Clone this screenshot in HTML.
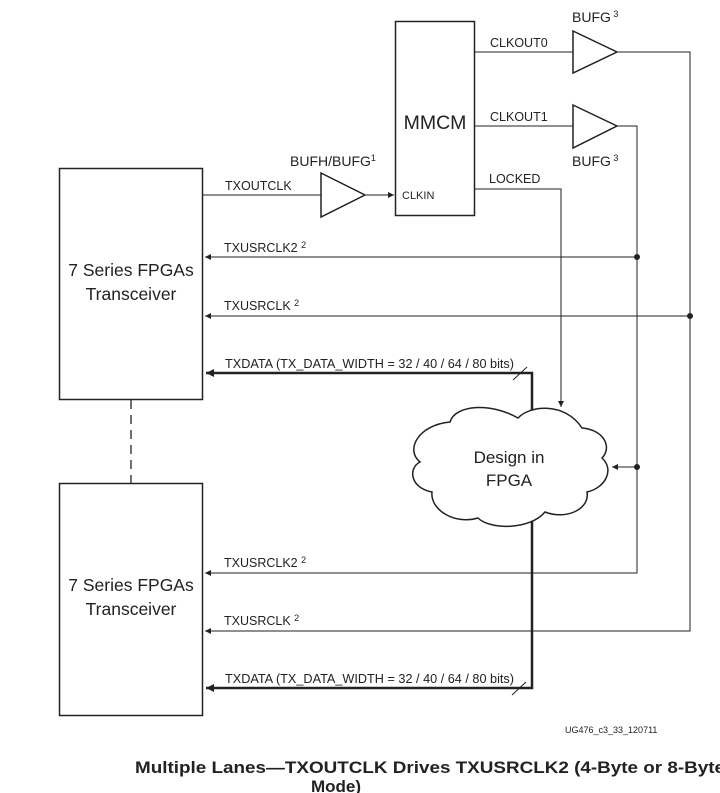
<!DOCTYPE html>
<html><head><style>body{margin:0;background:#fff}svg{display:block}</style></head>
<body>
<svg width="720" height="793" viewBox="0 0 720 793" xmlns="http://www.w3.org/2000/svg" font-family="Liberation Sans, sans-serif" fill="none" stroke="#222">
<defs>
<marker id="a" viewBox="0 0 10 10" refX="10" refY="5" markerWidth="8" markerHeight="6" orient="auto-start-reverse" markerUnits="userSpaceOnUse"><path d="M0,0L10,5L0,10z" fill="#222" stroke="none"/></marker>
<marker id="b" viewBox="0 0 10 10" refX="10" refY="5" markerWidth="14" markerHeight="8" orient="auto" markerUnits="userSpaceOnUse"><path d="M0,0L10,5L0,10z" fill="#222" stroke="none"/></marker>
</defs>
<rect x="59.5" y="168.5" width="143" height="231" stroke-width="1.5"/>
<rect x="59.5" y="483.5" width="143" height="232" stroke-width="1.5"/>
<line x1="131" y1="400" x2="131" y2="483" stroke-dasharray="9,6" stroke-width="1.3"/>
<rect x="395.5" y="21.5" width="79" height="194" stroke-width="1.5"/>
<path d="M321,173L365,195L321,217Z" stroke-width="1.5"/>
<path d="M573,31L617,52L573,73Z" stroke-width="1.5"/>
<path d="M573,105L617,126L573,148Z" stroke-width="1.5"/>
<g stroke-width="1">
<line x1="203" y1="195" x2="321" y2="195"/>
<line x1="365" y1="195" x2="394" y2="195" marker-end="url(#a)"/>
<line x1="475" y1="52" x2="573" y2="52"/>
<line x1="475" y1="126" x2="573" y2="126"/>
<polyline points="617,52 690,52 690,631 205,631" marker-end="url(#a)"/>
<polyline points="617,126 637,126 637,573 205,573" marker-end="url(#a)"/>
<line x1="637" y1="257" x2="205" y2="257" marker-end="url(#a)"/>
<line x1="690" y1="316" x2="205" y2="316" marker-end="url(#a)"/>
<line x1="637" y1="467" x2="612" y2="467" marker-end="url(#a)"/>
<polyline points="475,189 561,189 561,407" marker-end="url(#a)"/>
<line x1="513" y1="380" x2="527" y2="367"/>
<line x1="512" y1="695" x2="526" y2="682"/>
</g>
<g fill="#222" stroke="none"><circle cx="637" cy="257" r="3"/><circle cx="690" cy="316" r="3"/><circle cx="637" cy="467" r="3"/></g>
<g stroke-width="2.5">
<polyline points="532,410 532,373 206,373" marker-end="url(#b)"/>
<polyline points="532,517 532,688 206,688" marker-end="url(#b)"/>
</g>
<path d="M450,422 C455,405 490,402 518,418 C530,405 565,402 582,428 C605,430 612,448 602,458 C615,470 605,488 587,492 C590,510 565,520 545,512 C530,530 490,530 478,518 C455,525 430,510 432,492 C410,488 408,468 420,462 C405,450 418,425 450,422 Z" fill="#fff" stroke-width="1.5"/>
<g fill="#222" stroke="none">
<text x="131" y="276" font-size="17.5" text-anchor="middle">7 Series FPGAs</text>
<text x="131" y="300" font-size="17.5" text-anchor="middle">Transceiver</text>
<text x="131" y="591" font-size="17.5" text-anchor="middle">7 Series FPGAs</text>
<text x="131" y="615" font-size="17.5" text-anchor="middle">Transceiver</text>
<text x="435" y="129" font-size="19.5" text-anchor="middle">MMCM</text>
<text x="509" y="463" font-size="17" text-anchor="middle">Design in</text>
<text x="509" y="486" font-size="17" text-anchor="middle">FPGA</text>
<text x="402" y="199" font-size="11">CLKIN</text>
<g font-size="12.5">
<text x="225" y="190">TXOUTCLK</text>
<text x="490" y="47">CLKOUT0</text>
<text x="490" y="121">CLKOUT1</text>
<text x="489" y="183">LOCKED</text>
<text x="224" y="252">TXUSRCLK2 <tspan font-size="9" dy="-4">2</tspan></text>
<text x="224" y="310">TXUSRCLK <tspan font-size="9" dy="-4">2</tspan></text>
<text x="225" y="368" textLength="289" lengthAdjust="spacingAndGlyphs">TXDATA (TX_DATA_WIDTH = 32 / 40 / 64 / 80 bits)</text>
<text x="224" y="567">TXUSRCLK2 <tspan font-size="9" dy="-4">2</tspan></text>
<text x="224" y="625">TXUSRCLK <tspan font-size="9" dy="-4">2</tspan></text>
<text x="225" y="683" textLength="289" lengthAdjust="spacingAndGlyphs">TXDATA (TX_DATA_WIDTH = 32 / 40 / 64 / 80 bits)</text>
</g>
<g font-size="14">
<text x="290" y="166">BUFH/BUFG<tspan font-size="9" dy="-5">1</tspan></text>
<text x="572" y="22">BUFG<tspan font-size="9" dy="-5"> 3</tspan></text>
<text x="572" y="166">BUFG<tspan font-size="9" dy="-5"> 3</tspan></text>
</g>
<text x="565" y="733" font-size="9">UG476_c3_33_120711</text>
<text x="135" y="773" font-size="17" font-weight="bold" textLength="590" lengthAdjust="spacingAndGlyphs">Multiple Lanes—TXOUTCLK Drives TXUSRCLK2 (4-Byte or 8-Byte</text>
<text x="311" y="792" font-size="17" font-weight="bold">Mode)</text>
</g>
</svg>
</body></html>
